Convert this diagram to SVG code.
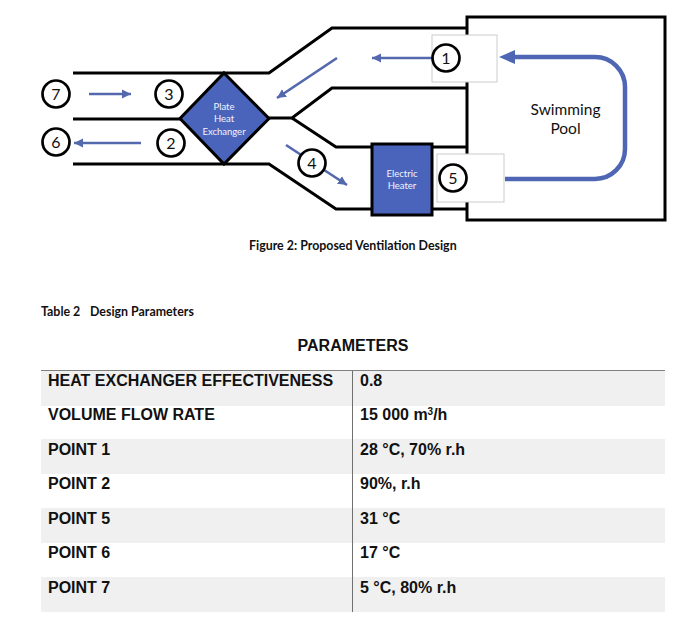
<svg xmlns="http://www.w3.org/2000/svg" width="689" height="621" viewBox="0 0 689 621">
<style>
.duct{fill:none;stroke:#000;stroke-width:3;stroke-linejoin:miter}
.flow{fill:none;stroke:#5468ae;stroke-width:2.6}
.num{fill:#fff;stroke:#000;stroke-width:2.7}
.numt{font:16px Lato,"Liberation Sans",sans-serif;fill:#111;text-anchor:middle}
.inner{font:9.5px Lato,"Liberation Sans",sans-serif;fill:#f2f4fb;text-anchor:middle}
.pool{font:15.500px Lato,"Liberation Sans",sans-serif;fill:#111;text-anchor:middle}
.cap{font:bold 12.400px Lato,"Liberation Sans",sans-serif;fill:#111}
.tb{font:bold 16px "Liberation Sans",Arial,sans-serif;fill:#111}
.band{fill:#f0f0f0}
.white{fill:#fff;stroke:#ccc;stroke-width:1}
</style>
<defs>
<marker id="ah" markerUnits="userSpaceOnUse" markerWidth="10" markerHeight="10" refX="9" refY="5" orient="auto"><path d="M0,0.5 L9,5 L0,9.5 Z" fill="#5468ae"/></marker>
</defs>
<rect width="689" height="621" fill="#fff"/>
<g id="table">
<rect class="band" x="41" y="371" width="624" height="35"/>
<rect class="band" x="41" y="439" width="624" height="35"/>
<rect class="band" x="41" y="508" width="624" height="35"/>
<rect class="band" x="41" y="577" width="624" height="35"/>
<path d="M41,370.500H665" stroke="#808080" stroke-width="1" fill="none"/>
<path d="M352.500,371V612" stroke="#707070" stroke-width="1" fill="none"/>
<text class="tb" x="48" y="386">HEAT EXCHANGER EFFECTIVENESS</text><text class="tb" x="360" y="386">0.8</text>
<text class="tb" x="48" y="420">VOLUME FLOW RATE</text><text class="tb" x="360" y="420">15 000 m<tspan font-size="10" dy="-5">3</tspan><tspan dy="5">/h</tspan></text>
<text class="tb" x="48" y="455">POINT 1</text><text class="tb" x="360" y="455">28 °C, 70% r.h</text>
<text class="tb" x="48" y="489">POINT 2</text><text class="tb" x="360" y="489">90%, r.h</text>
<text class="tb" x="48" y="524">POINT 5</text><text class="tb" x="360" y="524">31 °C</text>
<text class="tb" x="48" y="558">POINT 6</text><text class="tb" x="360" y="558">17 °C</text>
<text class="tb" x="48" y="593">POINT 7</text><text class="tb" x="360" y="593">5 °C, 80% r.h</text>
</g>
<text class="cap" x="249" y="250">Figure 2: Proposed Ventilation Design</text>
<text class="cap" x="41" y="316">Table 2</text>
<text class="cap" x="90" y="316">Design Parameters</text>
<text x="353" y="351" text-anchor="middle" style="font:bold 16px 'Liberation Sans',Arial,sans-serif;fill:#111">PARAMETERS</text>
<g id="connectors">
<path class="duct" d="M73,73H269L332,28H467"/>
<path class="duct" d="M73,119H180"/>
<path class="duct" d="M73,164H269L336,209H372"/>
<path class="duct" d="M269,118H292L332,88H467"/>
<path class="duct" d="M292,118L336,147H372"/>
<path class="duct" d="M432,147H467M432,209H467"/>
<path class="flow" d="M89,94H131" marker-end="url(#ah)"/>
<path class="flow" d="M141,143H74" marker-end="url(#ah)"/>
<path class="flow" d="M337,58L277,98" marker-end="url(#ah)"/>
<path class="flow" d="M286,145L347,185" marker-end="url(#ah)"/>
</g>
<g id="pool">
<rect x="467" y="17" width="198" height="203" fill="#fff" stroke="#000" stroke-width="3"/>
<text class="pool" x="565.500" y="115">Swimming</text>
<text class="pool" x="565.500" y="134">Pool</text>
</g>
<g id="inlet-box"><rect class="white" x="432" y="35" width="65" height="47"/></g>
<g id="outlet-box"><rect class="white" x="437" y="154" width="67" height="48"/></g>
<g id="pool-flow">
<path d="M505,179H595A30,30 0 0 0 625,149V87A30,30 0 0 0 595,57H512" fill="none" stroke="#4f66b4" stroke-width="4.5"/>
<path d="M499,57L515,50V64Z" fill="#4f66b4"/>
<path class="flow" d="M432,58H372" marker-end="url(#ah)"/>
</g>
<g id="heat-exchanger">
<path d="M224,73L269,118.500L224,164L180,118.500Z" fill="#4b64bb" stroke="#000" stroke-width="3"/>
<text class="inner" x="224" y="110">Plate</text>
<text class="inner" x="224" y="122">Heat</text>
<text class="inner" x="224" y="135">Exchanger</text>
</g>
<g id="electric-heater">
<rect x="372" y="144" width="60" height="71" fill="#4b64bb" stroke="#000" stroke-width="3"/>
<text class="inner" x="402" y="177">Electric</text>
<text class="inner" x="402" y="189">Heater</text>
</g>
<g id="n1"><circle class="num" cx="446" cy="58" r="13.500"/><text class="numt" x="446" y="63.500">1</text></g>
<g id="n2"><circle class="num" cx="171" cy="143" r="13.500"/><text class="numt" x="171" y="148.500">2</text></g>
<g id="n3"><circle class="num" cx="169" cy="94" r="13.500"/><text class="numt" x="169" y="99.500">3</text></g>
<g id="n4"><circle class="num" cx="312" cy="163" r="13.500"/><text class="numt" x="312" y="168.500">4</text></g>
<g id="n5"><circle class="num" cx="453" cy="178" r="13.500"/><text class="numt" x="453" y="183.500">5</text></g>
<g id="n6"><circle class="num" cx="56" cy="142" r="13.500"/><text class="numt" x="56" y="147.500">6</text></g>
<g id="n7"><circle class="num" cx="56" cy="94" r="13.500"/><text class="numt" x="56" y="99.500">7</text></g>
</svg>
